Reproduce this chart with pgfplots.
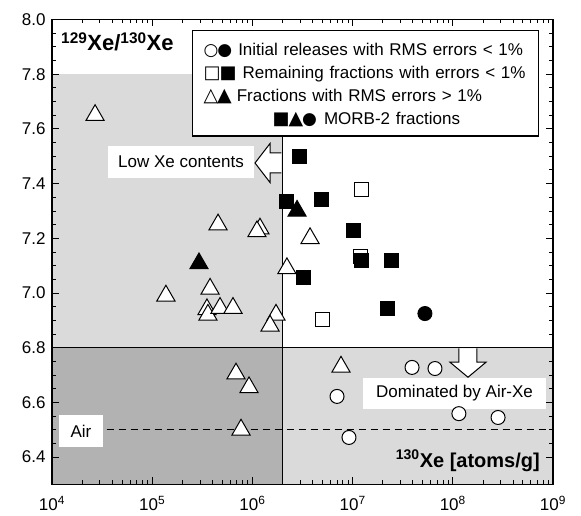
\documentclass[border=0pt]{standalone}
\usepackage{fontspec}
\setmainfont{Liberation Sans}
\newfontfamily\sym{DejaVu Sans}
\usepackage{pgfplots}
\pgfplotsset{compat=1.18}
\definecolor{lgray}{gray}{0.855}
\definecolor{dgray}{gray}{0.70}
\newcommand{\fs}[1]{\fontsize{#1}{#1}\selectfont}
\newcommand{\sy}[2]{{\sym\fontsize{#1}{#1}\selectfont #2}}
\begin{document}
\begin{tikzpicture}
\begin{axis}[
 name=ax, scale only axis, width=501pt, height=465pt,
 xmode=log, xmin=1e4, xmax=1e9, ymin=6.3, ymax=8.0,
 xtick={1e4,1e5,1e6,1e7,1e8,1e9},
 xticklabels={10\textsuperscript{4},10\textsuperscript{5},10\textsuperscript{6},10\textsuperscript{7},10\textsuperscript{8},10\textsuperscript{9}},
 ytick={6.4,6.6,6.8,7.0,7.2,7.4,7.6,7.8,8.0},
 minor y tick num=3,
 tick align=inside,
 major tick length=7pt, minor tick length=4pt,
 every tick/.append style={line width=0.9pt, black},
 axis line style={line width=1.3pt},
 ticklabel style={font=\fs{17}},
 xticklabel style={yshift=-8pt},
 yticklabel style={xshift=-3pt,/pgf/number format/.cd, fixed, fixed zerofill, precision=1, assume math mode=true},
 axis on top,
]
% shaded regions
\fill[lgray] (axis cs:1e4,6.8) rectangle (axis cs:2e6,7.8);
\fill[dgray] (axis cs:1e4,6.3) rectangle (axis cs:2e6,6.8);
\fill[lgray] (axis cs:2e6,6.3) rectangle (axis cs:1e9,6.8);
\draw[line width=1.3pt] (axis cs:1e4,6.8) -- (axis cs:1e9,6.8);
\draw[line width=1.3pt] (axis cs:2e6,6.3) -- (axis cs:2e6,7.8);
% air line
\addplot[black, line width=1pt, dash pattern=on 7pt off 5pt] coordinates {(3.5e4,6.5) (1e9,6.5)};

% open squares
\addplot[only marks, mark=square*, mark size=7pt, mark options={fill=white, draw=black, line width=1pt}] coordinates {
(1.24e7,7.378) (1.19e7,7.133) (4.95e6,6.903)};
% open triangles
\addplot[only marks, mark=triangle*, mark size=10.5pt, mark options={fill=white, draw=black, line width=1pt}] coordinates {
(2.69e4,7.65) (4.54e5,7.25) (1.19e6,7.235) (1.11e6,7.225) (3.76e6,7.20) (2.21e6,7.09)
(1.37e5,6.99) (3.78e5,7.015) (3.52e5,6.94) (3.6e5,6.92) (4.75e5,6.945) (6.4e5,6.945)
(1.72e6,6.92) (1.5e6,6.88) (6.86e5,6.705) (9.25e5,6.655) (7.7e5,6.50) (7.66e6,6.73)};
% open circles
\addplot[only marks, mark=*, mark size=7pt, mark options={fill=white, draw=black, line width=1pt}] coordinates {
(3.92e7,6.728) (6.64e7,6.724) (6.99e6,6.622) (1.15e8,6.559) (2.83e8,6.545) (9.2e6,6.472)};
% filled squares
\addplot[only marks, mark=square*, mark size=7pt, mark options={fill=black, draw=black, line width=1pt}] coordinates {
(2.98e6,7.50) (2.21e6,7.335) (4.84e6,7.342) (1.01e7,7.229) (1.24e7,7.119) (2.42e7,7.119) (3.2e6,7.057) (2.25e7,6.943)};
% filled triangles
\addplot[only marks, mark=triangle*, mark size=10.5pt, mark options={fill=black, draw=black, line width=1pt}] coordinates {
(2.93e5,7.108) (2.79e6,7.30)};
% filled circle
\addplot[only marks, mark=*, mark size=7pt, mark options={fill=black, draw=black, line width=1pt}] coordinates {
(5.27e7,6.925)};

% annotations
\node[fill=white, inner sep=0, minimum width=146pt, minimum height=32pt, font=\fs{17}] at (rel axis cs:0.2575,0.6935) {Low Xe contents};
\coordinate (LA) at (rel axis cs:0.4591,0.6914);
\node[fill=white, inner sep=0, minimum width=183pt, minimum height=31pt, font=\fs{17}] at (rel axis cs:0.8034,0.1957) {Dominated by Air-Xe};
\coordinate (DA) at (rel axis cs:0.8303,0.2941);
\node[fill=white, inner sep=0, minimum width=44pt, minimum height=32pt, font=\fs{17}] at (rel axis cs:0.0579,0.1151) {Air};
\node[anchor=base west, inner sep=0, font=\fs{22}\bfseries] at (rel axis cs:0.018,0.9323) {\textsuperscript{129}Xe/\textsuperscript{130}Xe};
\node[anchor=base east, inner sep=0, font=\fs{20}\bfseries] at (rel axis cs:0.974,0.0366) {\textsuperscript{130}Xe [atoms/g]};
% legend
\node[draw=black, line width=1.2pt, fill=white, anchor=north west, inner xsep=11pt, inner ysep=9pt, text width=324pt, align=left, font=\fontsize{17}{23}\selectfont] at (rel axis cs:0.2794,0.9774) {%
\rule{0pt}{16pt}\sy{17}{○}\kern-1pt\sy{17}{●}\hspace{6pt}Initial releases with RMS errors < 1\%\\
\sy{18}{□}\kern-1pt\sy{18}{■}\hspace{6pt}Remaining fractions with errors < 1\%\\
\sy{19}{△}\kern-1pt\sy{19}{▲}\hspace{5pt}Fractions with RMS errors > 1\%\\
\hspace*{69pt}\sy{18}{■}\kern-1pt\sy{19}{▲}\kern-1pt\sy{17}{●}\hspace{7pt}MORB-2 fractions};
\end{axis}
% block arrows
\draw[fill=white, line width=1pt, line join=miter]
 ([shift={(-0.6pt,10pt)}]LA) -- ([shift={(-12pt,10pt)}]LA) -- ([shift={(-12pt,19.5pt)}]LA)
 -- ([shift={(-27pt,0pt)}]LA) -- ([shift={(-12pt,-19.5pt)}]LA) -- ([shift={(-12pt,-10pt)}]LA)
 -- ([shift={(-0.6pt,-10pt)}]LA);
\draw[fill=white, line width=1pt, line join=miter]
 ([shift={(-9pt,-0.6pt)}]DA) -- ([shift={(-9pt,-14.5pt)}]DA) -- ([shift={(-18pt,-14.5pt)}]DA)
 -- ([shift={(0pt,-29.5pt)}]DA) -- ([shift={(18pt,-14.5pt)}]DA) -- ([shift={(9pt,-14.5pt)}]DA)
 -- ([shift={(9pt,-0.6pt)}]DA);
\path ([shift={(-52pt,-31.5pt)}]ax.south west) rectangle ([shift={(28pt,19.5pt)}]ax.north east);
\end{tikzpicture}
\end{document}
